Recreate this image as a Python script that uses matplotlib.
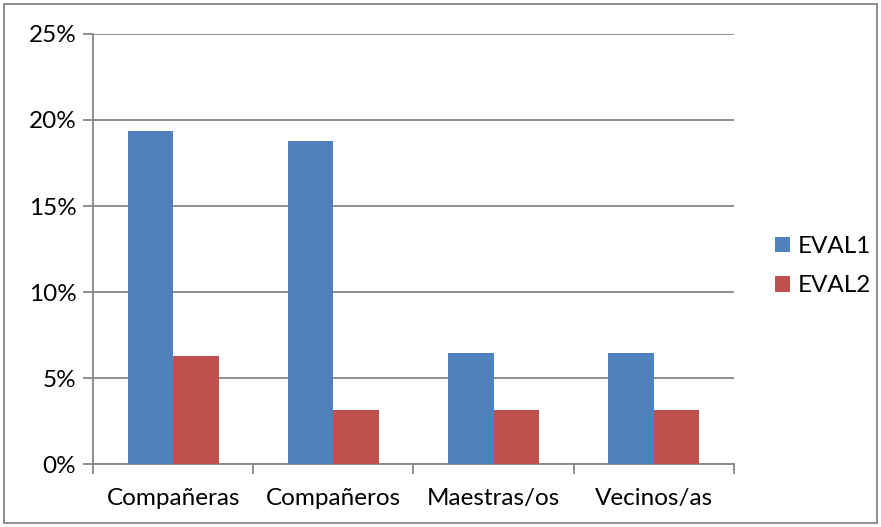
import numpy as np
import matplotlib.pyplot as plt
from matplotlib.patches import Rectangle
from matplotlib.ticker import FuncFormatter

categories = ['Compañeras', 'Compañeros', 'Maestras/os', 'Vecinos/as']
eval1 = [19.35, 18.75, 6.45, 6.45]
eval2 = [6.3, 3.13, 3.13, 3.13]
series_names = ['EVAL1', 'EVAL2']
yticks = [0, 5, 10, 15, 20, 25]

plt.rcParams['font.family'] = ['Lato', 'DejaVu Sans']
fs = 17.5

fig = plt.figure(figsize=(8.81, 5.27), dpi=100)
ax = fig.add_axes([0.1056, 0.1195, 0.7275, 0.816])

x = np.arange(len(categories))
w = 0.284
ax.bar(x - w / 2, eval1, w, color='#4F81BD', label=series_names[0], zorder=3)
ax.bar(x + w / 2, eval2, w, color='#C0504D', label=series_names[1], zorder=3)

ax.set_xlim(-0.5, len(categories) - 0.5)
ax.set_ylim(0, 25)
ax.set_yticks(yticks)
ax.yaxis.set_major_formatter(FuncFormatter(lambda v, p: '%d%%' % v))
ax.yaxis.grid(True, color='#868686', linewidth=1.3, zorder=0)

ax.set_xticks(x)
ax.set_xticklabels(categories)
ax.set_xticks(np.arange(-0.5, len(categories)), minor=True)
ax.tick_params(axis='x', which='major', length=0, pad=17, labelsize=fs)
ax.tick_params(axis='x', which='minor', length=7, width=1.3, color='#868686')
ax.tick_params(axis='y', length=7, width=1.3, color='#868686', labelsize=fs, pad=5)

for s in ['top', 'right']:
    ax.spines[s].set_visible(False)
for s in ['left', 'bottom']:
    ax.spines[s].set_color('#868686')
    ax.spines[s].set_linewidth(1.3)

ax.legend(loc='center left', bbox_to_anchor=(1.064, 0.46), frameon=False,
          fontsize=fs, handlelength=0.62, handleheight=0.62,
          handletextpad=0.33, labelspacing=0.75, borderpad=0, borderaxespad=0)

fig.patches.append(Rectangle((0.005, 0.008), 0.99, 0.984, transform=fig.transFigure,
                             fill=False, edgecolor='#868686', linewidth=1.3))

fig.savefig('out.png', dpi=100)
